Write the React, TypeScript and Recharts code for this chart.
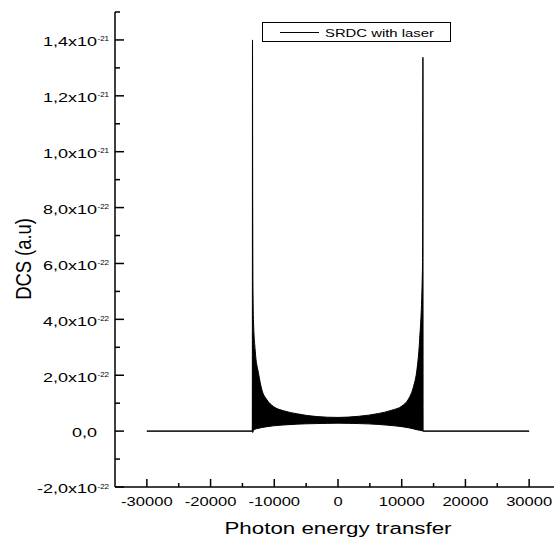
import React from 'react';
import { ComposedChart, Area, XAxis, YAxis } from 'recharts';

// Values. DCS in units of 1e-22 a.u.
const energy = [-30000, -13450, -13420, -13390, -13350, -13270, -13000, -12480, -11950, -11160, -10130, -8560, -6450, -3310, 0, 3220, 6360, 8470, 10040, 11070, 11860, 12390, 12790, 13250, 13300, 13330, 13360, 30000];
const dcsUpper = [0, 0, 14.0, 8.6, 5.3, 4.0, 2.9, 2.07, 1.48, 1.12, 0.88, 0.73, 0.62, 0.52, 0.49, 0.53, 0.63, 0.75, 0.9, 1.15, 1.6, 2.2, 3.2, 5.75, 8.25, 13.38, 0, 0];
const dcsLower = [0, 0, 0, -0.05, -0.03, 0.02, 0.07, 0.1, 0.13, 0.16, 0.19, 0.22, 0.25, 0.27, 0.285, 0.27, 0.24, 0.2, 0.16, 0.12, 0.08, 0.05, 0.03, 0.01, 0, 0, 0, 0];

const xMajorTicks = [-30000, -20000, -10000, 0, 10000, 20000, 30000];
const xMinorTicks = [-25000, -15000, -5000, 5000, 15000, 25000, 35000];
const xTickLabels = ['-30000', '-20000', '-10000', '0', '10000', '20000', '30000'];

const yMajorTicks = [-2, 0, 2, 4, 6, 8, 10, 12, 14];
const yMinorTicks = [-1, 1, 3, 5, 7, 9, 11, 13, 15];
const yTickLabels = ['-2,0x10^-22', '0,0', '2,0x10^-22', '4,0x10^-22', '6,0x10^-22', '8,0x10^-22', '1,0x10^-21', '1,2x10^-21', '1,4x10^-21'];

const seriesName = 'SRDC with laser';

const FONT = '"Liberation Sans", Arial, sans-serif';

const data = energy.map((x, i) => ({ x, range: [dcsLower[i], dcsUpper[i]] }));
const xTicks = [...xMajorTicks, ...xMinorTicks].sort((a, b) => a - b);
const yTicks = [...yMajorTicks, ...yMinorTicks].sort((a, b) => a - b);

// bottom axis: ticks point up into the plot, labels below
const BottomTick = ({ x, y, payload }: any) => {
    const idx = xMajorTicks.indexOf(payload.value);
    const major = idx >= 0;
    return (
        <g>
            <line x1={x} x2={x} y1={y} y2={y - (major ? 8 : 4)} stroke="#000" strokeWidth={1.5} />
            {major && (
                <text transform={`translate(${x},${y + 19}) scale(1.38,1)`} textAnchor="middle" fontSize={12} fontFamily={FONT} fill="#000">
                    {xTickLabels[idx]}
                </text>
            )}
        </g>
    );
};

const TopTick = ({ x, y, payload }: any) => {
    const major = xMajorTicks.includes(payload.value);
    return <line x1={x} x2={x} y1={y} y2={y + (major ? 8 : 4)} stroke="#000" strokeWidth={1.5} />;
};

const LeftTick = ({ x, y, payload }: any) => {
    const idx = yMajorTicks.indexOf(payload.value);
    const major = idx >= 0;
    const [main, sup] = major ? yTickLabels[idx].split('^') : ['', ''];
    return (
        <g>
            <line x1={x} x2={x + (major ? 9 : 5)} y1={y} y2={y} stroke="#000" strokeWidth={1.5} />
            {major && (
                <text transform={`translate(${x - 18},${y + 6.3}) scale(1.5,1)`} textAnchor="end" fontSize={12} fontFamily={FONT} fill="#000">
                    {main}
                </text>
            )}
            {major && sup && (
                <text x={x - 17.5} y={y + 1.5} textAnchor="start" fontSize={8} fontFamily={FONT} fill="#000">
                    {sup}
                </text>
            )}
        </g>
    );
};

const RightTick = ({ x, y, payload }: any) => {
    const major = yMajorTicks.includes(payload.value);
    return <line x1={x} x2={x - (major ? 9 : 5)} y1={y} y2={y} stroke="#000" strokeWidth={1.5} />;
};

const axisLine = { stroke: '#000', strokeWidth: 1.5 };

export default function App() {
    return (
        <div style={{ position: 'fixed', left: 0, top: 0, width: 554, height: 537, overflow: 'hidden', background: '#fff' }}>
            <ComposedChart width={580} height={537} data={data} margin={{ top: 12, right: 19, bottom: 0, left: 0 }}>
                <XAxis
                    xAxisId="b"
                    dataKey="x"
                    type="number"
                    domain={[-35000, 35000]}
                    ticks={xTicks}
                    interval={0}
                    height={50}
                    tickSize={0}
                    tickMargin={0}
                    tickLine={false}
                    axisLine={axisLine}
                    tick={<BottomTick />}
                    allowDataOverflow
                />
                <XAxis
                    xAxisId="t"
                    orientation="top"
                    dataKey="x"
                    type="number"
                    domain={[-35000, 35000]}
                    ticks={xTicks}
                    interval={0}
                    height={0}
                    tickSize={0}
                    tickMargin={0}
                    tickLine={false}
                    axisLine={axisLine}
                    tick={<TopTick />}
                    allowDataOverflow
                />
                <YAxis
                    yAxisId="l"
                    type="number"
                    domain={[-2, 15]}
                    ticks={yTicks}
                    interval={0}
                    width={115}
                    tickSize={0}
                    tickMargin={0}
                    tickLine={false}
                    axisLine={axisLine}
                    tick={<LeftTick />}
                    allowDataOverflow
                />
                <YAxis
                    yAxisId="r"
                    orientation="right"
                    type="number"
                    domain={[-2, 15]}
                    ticks={yTicks}
                    interval={0}
                    width={0}
                    tickSize={0}
                    tickMargin={0}
                    tickLine={false}
                    axisLine={axisLine}
                    tick={<RightTick />}
                    allowDataOverflow
                />
                <Area
                    xAxisId="b"
                    yAxisId="l"
                    dataKey="range"
                    name={seriesName}
                    type="monotone"
                    stroke="#000"
                    strokeWidth={1}
                    fill="#000"
                    fillOpacity={1}
                    dot={false}
                    activeDot={false}
                    isAnimationActive={false}
                />
                <text transform="translate(31,259) rotate(-90) scale(1,1.2)" textAnchor="middle" fontSize={18.4} fontFamily={FONT} fill="#000">
                    DCS (a.u)
                </text>
                <text transform="translate(338,534) scale(1.33,1)" textAnchor="middle" fontSize={16.8} fontFamily={FONT} fill="#000">
                    Photon energy transfer
                </text>
            </ComposedChart>
            {/* legend box */}
            <div style={{ position: 'absolute', left: 262, top: 22, width: 189, height: 20, border: '1px solid #000', boxSizing: 'border-box', background: '#fff' }}>
                <div style={{ position: 'absolute', left: 17, top: 9, width: 39, height: 1, background: '#000' }} />
                <span style={{ position: 'absolute', left: 62, top: 3, fontFamily: FONT, fontSize: 11.6, lineHeight: 'normal', whiteSpace: 'nowrap', transform: 'scaleX(1.28)', transformOrigin: 'left top' }}>
                    {seriesName}
                </span>
            </div>
        </div>
    );
}
